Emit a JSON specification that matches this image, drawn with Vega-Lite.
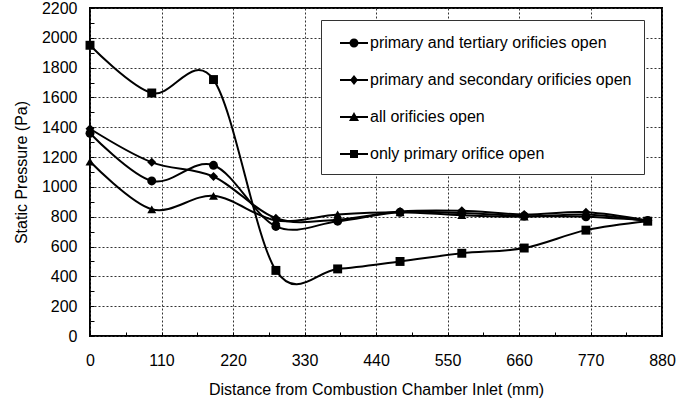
{
  "$schema": "https://vega.github.io/schema/vega-lite/v6.json",
  "width": 572,
  "height": 328,
  "autosize": {"type": "none"},
  "padding": {"left": 90, "top": 8, "right": 29, "bottom": 64},
  "background": "white",
  "config": {
    "font": "Liberation Sans",
    "view": {"stroke": "black", "strokeWidth": 2},
    "axis": {
      "labelFont": "Liberation Sans",
      "labelFontSize": 16,
      "labelColor": "black",
      "titleFont": "Liberation Sans",
      "titleFontSize": 16,
      "titleFontWeight": "normal",
      "titleColor": "black",
      "domain": false,
      "tickColor": "black",
      "tickSize": -4,
      "tickWidth": 1,
      "gridColor": "#333",
      "gridDash": [2, 2],
      "gridWidth": 1,
      "labelOverlap": false,
      "labelFlush": false,
      "format": "d"
    },
    "legend": {
      "labelFont": "Liberation Sans",
      "labelFontSize": 16,
      "labelColor": "black",
      "labelLimit": 0
    }
  },
  "data": {
    "values": [
      {"series": "primary and tertiary orificies open", "x": 0, "p": 1360},
      {"series": "primary and tertiary orificies open", "x": 95, "p": 1040},
      {"series": "primary and tertiary orificies open", "x": 190, "p": 1145},
      {"series": "primary and tertiary orificies open", "x": 286, "p": 735},
      {"series": "primary and tertiary orificies open", "x": 381, "p": 770},
      {"series": "primary and tertiary orificies open", "x": 477, "p": 830},
      {"series": "primary and tertiary orificies open", "x": 572, "p": 825},
      {"series": "primary and tertiary orificies open", "x": 668, "p": 805},
      {"series": "primary and tertiary orificies open", "x": 763, "p": 800},
      {"series": "primary and tertiary orificies open", "x": 858, "p": 775},
      {"series": "primary and secondary orificies open", "x": 0, "p": 1390},
      {"series": "primary and secondary orificies open", "x": 95, "p": 1165},
      {"series": "primary and secondary orificies open", "x": 190, "p": 1070},
      {"series": "primary and secondary orificies open", "x": 286, "p": 790},
      {"series": "primary and secondary orificies open", "x": 381, "p": 780},
      {"series": "primary and secondary orificies open", "x": 477, "p": 835},
      {"series": "primary and secondary orificies open", "x": 572, "p": 840},
      {"series": "primary and secondary orificies open", "x": 668, "p": 815},
      {"series": "primary and secondary orificies open", "x": 763, "p": 830},
      {"series": "primary and secondary orificies open", "x": 858, "p": 775},
      {"series": "all orificies open", "x": 0, "p": 1170},
      {"series": "all orificies open", "x": 95, "p": 850},
      {"series": "all orificies open", "x": 190, "p": 940},
      {"series": "all orificies open", "x": 286, "p": 775},
      {"series": "all orificies open", "x": 381, "p": 815},
      {"series": "all orificies open", "x": 477, "p": 830},
      {"series": "all orificies open", "x": 572, "p": 810},
      {"series": "all orificies open", "x": 668, "p": 800},
      {"series": "all orificies open", "x": 763, "p": 815},
      {"series": "all orificies open", "x": 858, "p": 770},
      {"series": "only primary orifice open", "x": 0, "p": 1950},
      {"series": "only primary orifice open", "x": 95, "p": 1630},
      {"series": "only primary orifice open", "x": 190, "p": 1720},
      {"series": "only primary orifice open", "x": 286, "p": 440},
      {"series": "only primary orifice open", "x": 381, "p": 450},
      {"series": "only primary orifice open", "x": 477, "p": 500},
      {"series": "only primary orifice open", "x": 572, "p": 555},
      {"series": "only primary orifice open", "x": 668, "p": 590},
      {"series": "only primary orifice open", "x": 763, "p": 710},
      {"series": "only primary orifice open", "x": 858, "p": 770}
    ]
  },
  "encoding": {
    "x": {
      "field": "x",
      "type": "quantitative",
      "scale": {"domain": [0, 880], "nice": false, "zero": false},
      "axis": {
        "title": "Distance from Combustion Chamber Inlet (mm)",
        "values": [0, 55, 110, 165, 220, 275, 330, 385, 440, 495, 550, 605, 660, 715, 770, 825, 880],
        "labelExpr": "datum.value % 110 === 0 ? datum.label : ''",
        "gridOpacity": {"condition": {"test": "datum.value % 110 === 0", "value": 1}, "value": 0},
        "labelPadding": 20,
        "titlePadding": 13
      }
    },
    "y": {
      "field": "p",
      "type": "quantitative",
      "scale": {"domain": [0, 2200], "nice": false},
      "axis": {
        "title": "Static Pressure (Pa)",
        "values": [0, 100, 200, 300, 400, 500, 600, 700, 800, 900, 1000, 1100, 1200, 1300, 1400, 1500, 1600, 1700, 1800, 1900, 2000, 2100, 2200],
        "labelExpr": "datum.value % 200 === 0 ? datum.label : ''",
        "gridOpacity": {"condition": {"test": "datum.value % 200 === 0", "value": 1}, "value": 0},
        "labelPadding": 17,
        "titlePadding": 12
      }
    }
  },
  "layer": [
    {
      "mark": {"type": "line", "interpolate": "cardinal", "color": "black", "strokeWidth": 2},
      "encoding": {"detail": {"field": "series"}}
    },
    {
      "mark": {"type": "point", "filled": true, "color": "black", "opacity": 1, "size": 80},
      "encoding": {
        "shape": {
          "field": "series",
          "type": "nominal",
          "scale": {
            "domain": ["primary and tertiary orificies open", "primary and secondary orificies open", "all orificies open", "only primary orifice open"],
            "range": ["circle", "diamond", "triangle-up", "square"]
          },
          "legend": null
        }
      }
    },
    {
      "mark": {"type": "point", "filled": true, "color": "black", "opacity": 0},
      "encoding": {
        "shape": {
          "field": "series",
          "type": "nominal",
          "scale": {
            "domain": ["primary and tertiary orificies open", "primary and secondary orificies open", "all orificies open", "only primary orifice open"],
            "range": [
              "M-1.4,-0.1H1.4V0.1H-1.4ZM0.45,0A0.45,0.45,0,1,1,-0.45,0A0.45,0.45,0,1,1,0.45,0Z",
              "M-1.4,-0.1H1.4V0.1H-1.4ZM0,-0.5L0.4,0L0,0.5L-0.4,0Z",
              "M-1.4,-0.1H1.4V0.1H-1.4ZM0,-0.5L0.5,0.4L-0.5,0.4Z",
              "M-1.4,-0.1H1.4V0.1H-1.4ZM-0.4,-0.4H0.4V0.4H-0.4Z"
            ]
          },
          "legend": {
            "title": null,
            "orient": "none",
            "legendX": 231,
            "legendY": 12,
            "padding": 12,
            "fillColor": "white",
            "strokeColor": "#333",
            "symbolSize": 400,
            "symbolOffset": 10,
            "labelOffset": 5,
            "rowPadding": 18,
            "symbolFillColor": "black",
            "symbolStrokeColor": "black",
            "symbolOpacity": 1,
            "encode": {
              "symbols": {
                "opacity": {"value": 1},
                "fill": {"value": "black"}
              }
            }
          }
        }
      }
    }
  ],
  "resolve": {"scale": {"shape": "independent"}}
}
